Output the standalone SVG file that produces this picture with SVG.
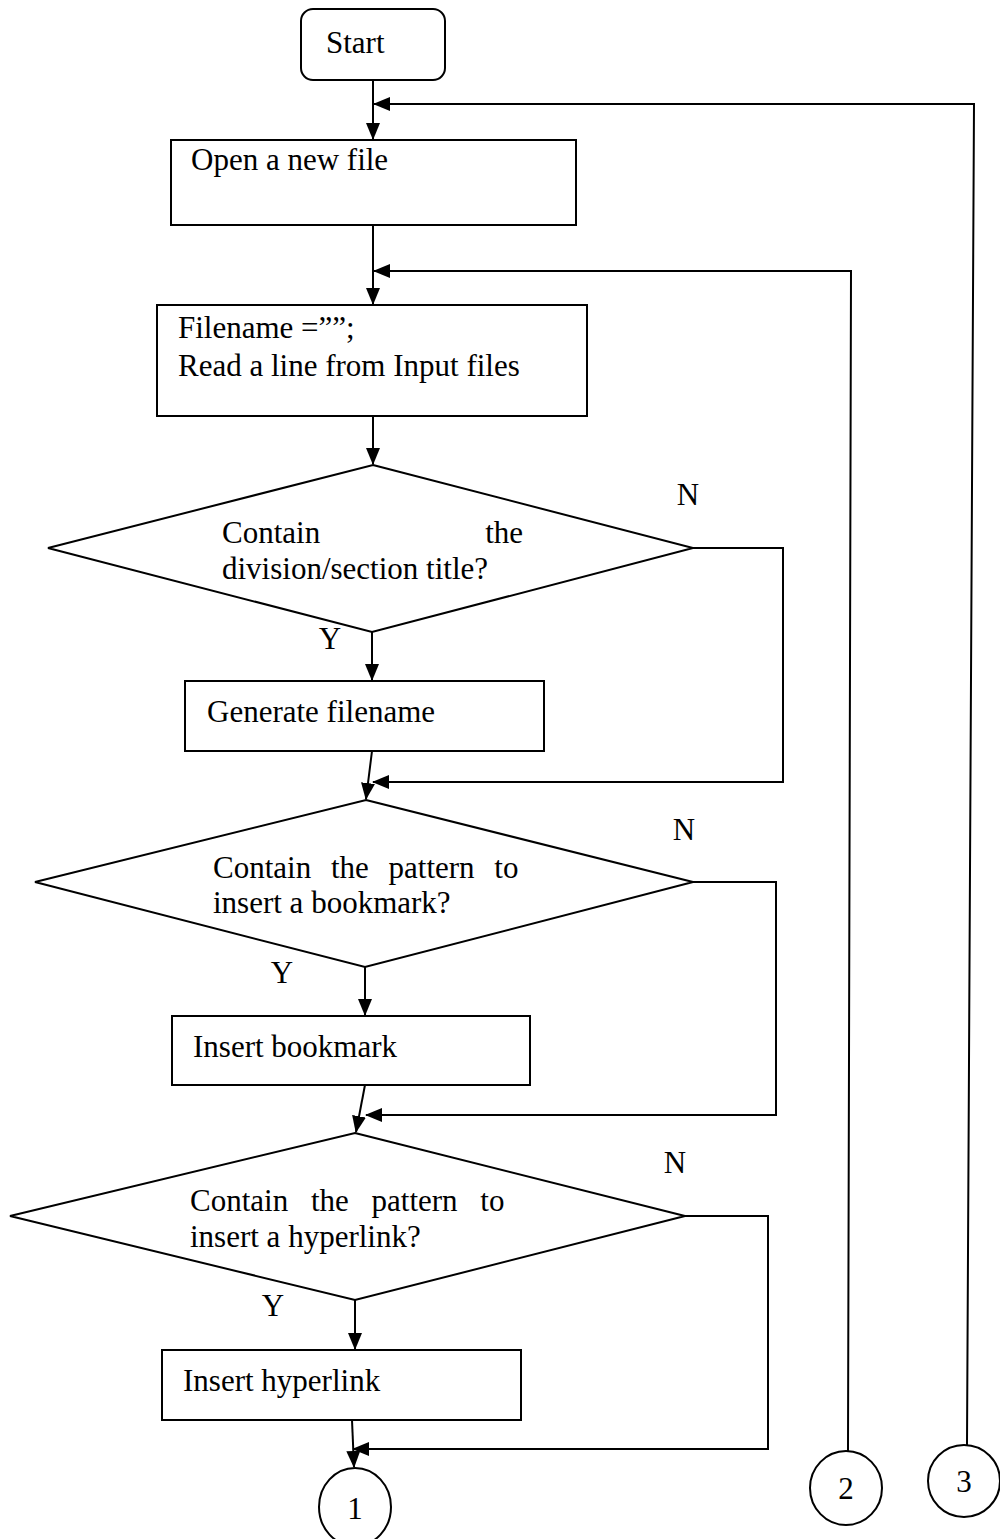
<svg xmlns="http://www.w3.org/2000/svg" width="1000" height="1539" viewBox="0 0 1000 1539">
<defs>
<marker id="ah" markerWidth="17" markerHeight="14" refX="16" refY="7" orient="auto" markerUnits="userSpaceOnUse">
<path d="M0,0 L17,7 L0,14 Z" fill="#000"/>
</marker>
<style>
.n{fill:#fff;stroke:#000;stroke-width:2}
.c{fill:none;stroke:#000;stroke-width:2}
.t{font-family:"Liberation Serif","Times New Roman",serif;font-size:31px;fill:#000}
.m{text-anchor:middle}
</style>
</defs>
<rect width="1000" height="1539" fill="#fff"/>
<g id="connectors">
<path class="c" d="M373,80 V139" marker-end="url(#ah)"/>
<path class="c" d="M967,1445 L974,104 H374" marker-end="url(#ah)"/>
<path class="c" d="M373,225 V304" marker-end="url(#ah)"/>
<path class="c" d="M848,1451 L851,271 H374" marker-end="url(#ah)"/>
<path class="c" d="M373,416 V464" marker-end="url(#ah)"/>
<path class="c" d="M372,632 V680" marker-end="url(#ah)"/>
<path class="c" d="M693,548 H783 V782 H373" marker-end="url(#ah)"/>
<path class="c" d="M372,751 L366,799" marker-end="url(#ah)"/>
<path class="c" d="M693,882 H776 V1115 H366" marker-end="url(#ah)"/>
<path class="c" d="M365,967 V1015" marker-end="url(#ah)"/>
<path class="c" d="M365,1085 L356,1132" marker-end="url(#ah)"/>
<path class="c" d="M685,1216 H768 V1449 H353" marker-end="url(#ah)"/>
<path class="c" d="M355,1300 V1349" marker-end="url(#ah)"/>
<path class="c" d="M352,1420 L354,1467" marker-end="url(#ah)"/>
</g>
<g id="start">
<rect class="n" x="301" y="9" width="144" height="71" rx="12"/>
<text class="t" x="326" y="53">Start</text>
</g>
<g id="open-file">
<rect class="n" x="171" y="140" width="405" height="85"/>
<text class="t" x="191" y="170">Open a new file</text>
</g>
<g id="read-line">
<rect class="n" x="157" y="305" width="430" height="111"/>
<text class="t" x="178" y="338">Filename =””;</text>
<text class="t" x="178" y="376">Read a line from Input files</text>
</g>
<g id="decision-title">
<polygon class="n" points="373,465 693,548 372,632 48,548"/>
<text class="t" x="222" y="543">Contain</text>
<text class="t" x="523" y="543" text-anchor="end">the</text>
<text class="t" x="222" y="579">division/section title?</text>
<text class="t m" x="688" y="505">N</text>
<text class="t m" x="330" y="649">Y</text>
</g>
<g id="generate-filename">
<rect class="n" x="185" y="681" width="359" height="70"/>
<text class="t" x="207" y="722">Generate filename</text>
</g>
<g id="decision-bookmark">
<polygon class="n" points="366,800 693,882 365,967 35,882"/>
<text class="t" x="213" y="878" word-spacing="12">Contain the pattern to</text>
<text class="t" x="213" y="913">insert a bookmark?</text>
<text class="t m" x="684" y="840">N</text>
<text class="t m" x="282" y="983">Y</text>
</g>
<g id="insert-bookmark">
<rect class="n" x="172" y="1016" width="358" height="69"/>
<text class="t" x="193" y="1057">Insert bookmark</text>
</g>
<g id="decision-hyperlink">
<polygon class="n" points="355,1133 685,1216 355,1300 10,1216"/>
<text class="t" x="190" y="1211" word-spacing="15">Contain the pattern to</text>
<text class="t" x="190" y="1247">insert a hyperlink?</text>
<text class="t m" x="675" y="1173">N</text>
<text class="t m" x="273" y="1316">Y</text>
</g>
<g id="insert-hyperlink">
<rect class="n" x="162" y="1350" width="359" height="70"/>
<text class="t" x="183" y="1391">Insert hyperlink</text>
</g>
<g id="connector-1">
<ellipse class="n" cx="355" cy="1507" rx="36" ry="39"/>
<text class="t m" x="355" y="1519">1</text>
</g>
<g id="connector-2">
<ellipse class="n" cx="846" cy="1488" rx="36" ry="37"/>
<text class="t m" x="846" y="1499">2</text>
</g>
<g id="connector-3">
<ellipse class="n" cx="964" cy="1481" rx="36" ry="36"/>
<text class="t m" x="964" y="1492">3</text>
</g>
</svg>
